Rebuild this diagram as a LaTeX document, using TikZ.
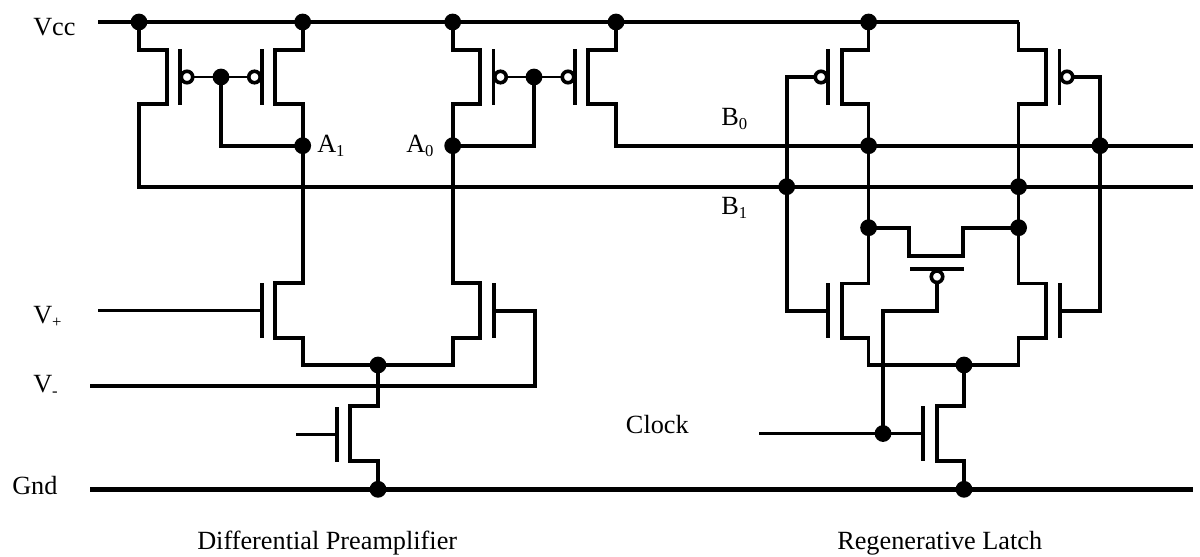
\documentclass[tikz,border=0pt]{standalone}
\usepackage{fontspec}
\setmainfont{Liberation Serif}
\newcommand{\subs}[1]{\raisebox{-0.16em}{\fontsize{12.5pt}{13pt}\selectfont #1}}
\tikzset{
  wire/.style={line width=2.8pt,line join=miter},
  thinwire/.style={line width=2.2pt},
  rail/.style={line width=2.9pt},
  gndrail/.style={line width=3.4pt},
  jdot/.style={circle,fill=black,draw=none,inner sep=0pt,minimum size=12.6pt},
  bubble/.style={circle,fill=white,draw=black,line width=2.7pt,inner sep=0pt,minimum size=8.6pt},
  vbar/.style={rectangle,fill=black,draw=none,inner sep=0pt,minimum width=2.8pt,minimum height=41.5pt},
  hbar/.style={rectangle,fill=black,draw=none,inner sep=0pt,minimum height=2.8pt,minimum width=41pt},
  lbl/.style={inner sep=0pt,font=\fontsize{19.7pt}{22pt}\selectfont},
}
\begin{document}
\begin{tikzpicture}[x=0.75pt,y=-0.75pt]
\useasboundingbox (0,0) rectangle (1200,557);
% free ends
\coordinate (vccL) at (98,22);
\coordinate (vccR) at (1018.6,22);
\coordinate (gndL) at (90,489.3);
\coordinate (gndR) at (1193,489.3);
\coordinate (b0R) at (1193,145.7);
\coordinate (b1R) at (1193,186.7);
\coordinate (vpL) at (98,310.7);
\coordinate (vmL) at (90,386);
\coordinate (tailG) at (296,434.3);
\coordinate (clkL) at (759,433.5);
% junctions
\node[jdot] (v1) at (139,22) {};
\node[jdot] (v2) at (302.7,22) {};
\node[jdot] (v3) at (452.7,22) {};
\node[jdot] (v4) at (616,22) {};
\node[jdot] (v5) at (868.6,22) {};
\node[jdot] (a1) at (302.7,145.7) {};
\node[jdot] (a0) at (452.7,145.7) {};
\node[jdot] (m1) at (221,77) {};
\node[jdot] (m0) at (534,77) {};
\node[jdot] (b0a) at (868.6,145.7) {};
\node[jdot] (b0b) at (1100,145.7) {};
\node[jdot] (b1a) at (786.7,186.7) {};
\node[jdot] (b1b) at (1018.6,186.7) {};
\node[jdot] (l1) at (868.6,227.7) {};
\node[jdot] (l2) at (1018.6,227.7) {};
\node[jdot] (t1) at (378,365) {};
\node[jdot] (t2) at (964,365) {};
\node[jdot] (g1) at (378,489.3) {};
\node[jdot] (g2) at (964,489.3) {};
\node[jdot] (clk) at (883,433.5) {};
% gate bars
\node[vbar] (p1) at (180,77) {};
\node[vbar] (p2) at (262,77) {};
\node[vbar] (p3) at (493.5,77) {};
\node[vbar] (p4) at (575,77) {};
\node[vbar] (p5) at (828,77) {};
\node[vbar] (p6) at (1059.6,77) {};
\node[vbar] (n1) at (262,310.7) {};
\node[vbar] (n2) at (494,310.7) {};
\node[vbar] (n3) at (337,434.3) {};
\node[vbar] (n4) at (828,310.7) {};
\node[vbar] (n5) at (1060,310.7) {};
\node[vbar] (n6) at (923,433.5) {};
\node[hbar] (pt) at (937,269) {};
% rails
\draw[rail] (vccL) -- (vccR);
\draw[gndrail] (gndL) -- (gndR);
% preamp load devices
\draw[wire] (v1.center) |- (167,50) |- (139,104) -- (139,186.7) -- (b1R);
\draw[wire] (v2.center) |- (275,50) |- (302.7,104) -- (a1.center);
\draw[wire] (v3.center) |- (480,50) |- (452.7,104) -- (a0.center);
\draw[wire] (v4.center) |- (588,50) |- (616,104) -- (616,145.7) -- (b0R);
\draw[wire] (m1.center) |- (a1.center);
\draw[wire] (m0.center) |- (a0.center);
% preamp input pair
\draw[wire] (a1.center) |- (275,283) |- (302.7,338) |- (t1.center);
\draw[wire] (a0.center) |- (480,283) |- (452.7,338) |- (t1.center);
\draw[wire] (t1.center) |- (350,406) |- (378,461) -- (g1.center);
% latch
\draw[wire] (vccR) |- (1046,50) |- (1018.6,104) -- (b1b.center);
\draw[wire] (v5.center) |- (842,50) |- (868.6,104) -- (b0a.center);
\draw[wire] (b0a.center) -- (l1.center);
\draw[wire] (b1b.center) -- (l2.center);
\draw[wire] (l1.center) |- (841.7,283.5) |- (868.6,338) |- (t2.center);
\draw[wire] (l2.center) |- (1045.7,283.5) |- (1018.6,338) |- (t2.center);
\draw[wire] (l1.center) -| (909,255.7) -| (963.3,227.7) -- (l2.center);
\draw[wire] (t2.center) |- (936.7,406) |- (964,461) -- (g2.center);
% gates
\draw[thinwire] (vpL) -- (n1.center);
\draw[wire] (vmL) -- (535,386) |- (n2.center);
\draw[thinwire] (tailG) -- (n3.center);
\draw[wire] (clkL) -- (clk.center);
\draw[thinwire] (clk.center) -- (n6.center);
\draw[wire] (b1a.center) |- (n4.center);
\draw[wire] (b0b.center) |- (n5.center);
\draw[wire] (b1a.center) |- (821,77);
\draw[wire] (b0b.center) |- (1067,77);
\draw[thinwire] (m1.center) -- (187,77);
\draw[thinwire] (m1.center) -- (254,77);
\draw[thinwire] (m0.center) -- (500,77);
\draw[thinwire] (m0.center) -- (568,77);
\draw[wire] (clk.center) |- (937,311) -- (937,277);
% bubbles
\node[bubble] (bp1) at (187,77) {};
\node[bubble] (bp2) at (254.5,77) {};
\node[bubble] (bp3) at (500.5,77) {};
\node[bubble] (bp4) at (568,77) {};
\node[bubble] (bp5) at (821,77) {};
\node[bubble] (bp6) at (1067,77) {};
\node[bubble] (bpt) at (937,276.7) {};
% labels
\node[lbl,anchor=base west] (tvcc) at (33,35) {Vcc};
\node[lbl,anchor=base west] (tvp) at (33,323) {V\subs{+}};
\node[lbl,anchor=base west] (tvm) at (33,392) {V\subs{-}};
\node[lbl,anchor=base west] (tgnd) at (12,494) {Gnd};
\node[lbl,anchor=base west] (ta1) at (317,152) {A\subs{1}};
\node[lbl,anchor=base west] (ta0) at (406,152) {A\subs{0}};
\node[lbl,anchor=base west] (tb0) at (721,125) {B\subs{0}};
\node[lbl,anchor=base west] (tb1) at (721,214) {B\subs{1}};
\node[lbl,anchor=base east] (tclk) at (689,433) {Clock};
\node[lbl,anchor=base west] (tdp) at (197,549) {Differential Preamplifier};
\node[lbl,anchor=base west] (trl) at (837,549) {Regenerative Latch};
\end{tikzpicture}
\end{document}
